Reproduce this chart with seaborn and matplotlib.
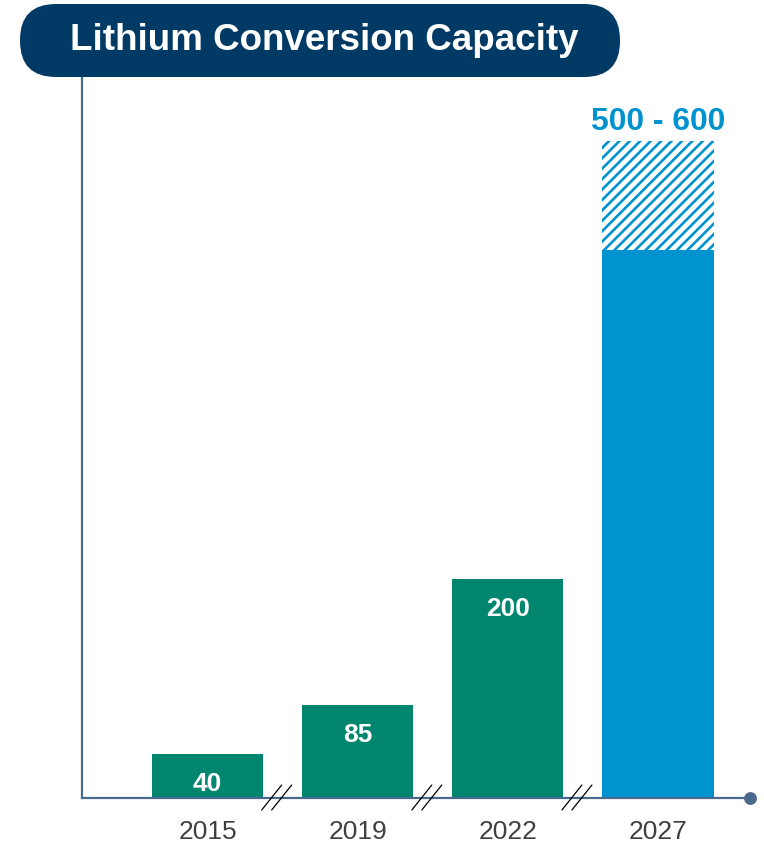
import matplotlib
matplotlib.use("Agg")
import matplotlib.pyplot as plt
import matplotlib.transforms as mtransforms
from matplotlib.patches import FancyBboxPatch
import seaborn as sns
import pandas as pd

# chart data
years = ['2015', '2019', '2022', '2027']
capacity = [40, 85, 200, 500]
range_high = 600          # upper end of the 2027 target range
range_label = '500 - 600'
title = 'Lithium Conversion Capacity'

teal = '#00866F'
blue = '#0093D0'
navy = '#023A66'
axis_col = '#4A6A8B'

DPI = 125
S = 100 / DPI   # sizes below are given for 100 dpi, scaled to the save dpi

sns.set_theme(style='white')
plt.rcParams['font.family'] = ['Liberation Sans', 'DejaVu Sans']
plt.rcParams['hatch.linewidth'] = 1.9 * S
plt.rcParams['hatch.color'] = blue

df = pd.DataFrame({'year': years, 'capacity': capacity})

fig = plt.figure(figsize=(7.64 * S, 8.43 * S), dpi=DPI)
ax = fig.add_axes([82 / 764, 45 / 843, 668 / 764, 720 / 843])

palette = [teal, teal, teal, blue]
sns.barplot(data=df, x='year', y='capacity', hue='year', palette=palette,
            order=years, width=0.74, legend=False, ax=ax, saturation=1,
            linewidth=0)

# hatched part of the 2027 range
i27 = years.index('2027')
ax.bar(i27, range_high - capacity[i27], bottom=capacity[i27], width=0.74,
       facecolor='white', edgecolor=blue, hatch='////', linewidth=0)

ax.set_xlim(-0.837, 3.613)
ax.set_ylim(0, 657.5)

# value labels inside bars
for i, (yr, v) in enumerate(zip(years, capacity)):
    if yr == '2027':
        continue
    ax.annotate(str(v), (i, v), xytext=(0, -21.5 * S), textcoords='offset points',
                ha='center', va='center', color='white', fontsize=19 * S,
                fontweight='bold')
ax.annotate(range_label, (i27, range_high), xytext=(0, 14 * S),
            textcoords='offset points', ha='center', va='center', color=blue,
            fontsize=23 * S, fontweight='bold')

# axes styling
sns.despine(ax=ax, top=True, right=True)
for side in ['left', 'bottom']:
    ax.spines[side].set_color(axis_col)
    ax.spines[side].set_linewidth(1.6 * S)
ax.set_yticks([])
ax.set_xlabel('')
ax.set_ylabel('')
ax.tick_params(axis='x', length=0, pad=15.5 * S, labelsize=19 * S,
               labelcolor='#404040')
ax.plot([1], [0], marker='o', markersize=8 * S, color=axis_col,
        transform=ax.transAxes, clip_on=False)

# axis break marks between categories
base = mtransforms.blended_transform_factory(ax.transData, ax.transAxes)
inv = fig.transFigure.inverted()
for i in range(len(years) - 1):
    for dx in (-0.05, 0.05):
        off_lo = mtransforms.ScaledTranslation((dx - 0.1) * S, -0.12 * S,
                                               fig.dpi_scale_trans)
        off_hi = mtransforms.ScaledTranslation((dx + 0.1) * S, 0.13 * S,
                                               fig.dpi_scale_trans)
        f0 = inv.transform((base + off_lo).transform((i + 0.46, 0)))
        f1 = inv.transform((base + off_hi).transform((i + 0.46, 0)))
        fig.add_artist(plt.Line2D([f0[0], f1[0]], [f0[1], f1[1]],
                                  color='black', linewidth=0.9 * S))

# title pill
pill = FancyBboxPatch((0.2 * S, 7.66 * S), 6.0 * S, 0.73 * S,
                      boxstyle='round,pad=0,rounding_size=%f' % (0.36 * S),
                      transform=fig.dpi_scale_trans, facecolor=navy,
                      edgecolor='none')
fig.add_artist(pill)
fig.text(324 / 764, 1 - 41 / 843, title, ha='center', va='center',
         color='white', fontsize=26.5 * S, fontweight='bold')

fig.savefig('out.png', dpi=DPI)
